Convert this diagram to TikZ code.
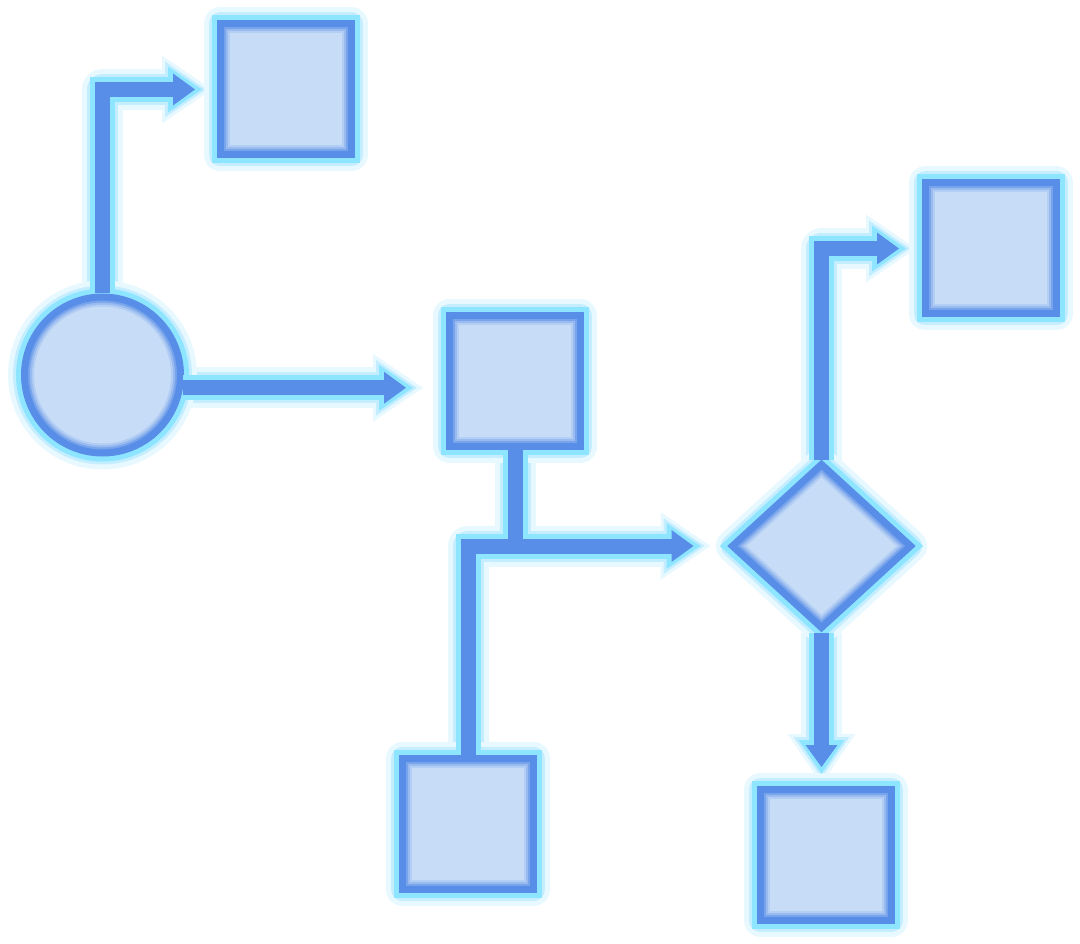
\documentclass[tikz,border=0pt]{standalone}
\usetikzlibrary{arrows.meta,shapes.geometric}
\pgfdeclarelayer{background}
\pgfsetlayers{background,main}

\definecolor{flowdark}{RGB}{89,142,232}
\definecolor{flowfill}{RGB}{199,220,246}
\definecolor{flowcyan}{RGB}{142,229,255}
\definecolor{flowglowA}{RGB}{196,238,255}
\definecolor{flowglowB}{RGB}{232,248,255}

% all connectors of the chart, #1 = pass style, #2 = how far the tip of that pass sticks out
\newcommand{\flowlinks}[2]{%
  \draw[#1, shorten >=21.5-#2] (c.north) |- (s1.west);
  \draw[#1, shorten >=40-#2] (c.-9) -- (c.-9 -| s2.west);
  \draw[#1, -] (s2.south) -- (s2.south |- d.west);
  \draw[#1, shorten >=34-#2] (s4.north) |- (d.west);
  \draw[#1, shorten >=22.5-#2] (d.north) |- (s3.west);
  \draw[#1, shorten >=19-#2] (d.south) -- (d.south |- s5.north);
}

\begin{document}
\begin{tikzpicture}[x=1pt,y=-1pt,
    glowbox/.style={draw=flowdark, fill=flowfill, line width=7pt, inner sep=0pt,
      preaction={draw=flowglowB, line width=33pt, line join=round},
      preaction={draw=flowglowA, line width=23pt, line join=round},
      preaction={draw=flowcyan, line width=17pt}},
    % soft darker band just inside the border
    inband/.style={path picture={
      \foreach \w/\m in {19/18, 15/42, 11/72} \draw[flowdark!\m!flowfill, line width=\w pt] #1;}},
    sq/.style={glowbox, minimum size=131pt,
      inband={(path picture bounding box.south west) rectangle (path picture bounding box.north east)}},
    glowB/.style={draw=flowglowB, line width=41pt, line join=round,
      -{Triangle[length=50pt, width=68pt, line width=0pt]}},
    glowA/.style={draw=flowglowA, line width=31pt, line join=round,
      -{Triangle[length=41pt, width=56pt, line width=0pt]}},
    halo/.style={draw=flowcyan, line width=25pt,
      -{Triangle[length=34pt, width=46pt, line width=0pt]}},
    wire/.style={draw=flowdark, line width=15pt,
      -{Triangle[length=22pt, width=32pt, line width=0pt]}}]
    \useasboundingbox (0,0) rectangle (1080,944);

    % start, boxes and the decision
    \node[glowbox, circle, minimum size=156pt,
      inband={(path picture bounding box.center) circle (78pt)}] (c) at (102.5,375) {};
    \node[sq] (s1) at (285.5,89.5) {};
    \node[sq] (s2) at (515,381) {};
    \node[sq] (s3) at (990.5,248.5) {};
    \node[sq] (s4) at (468,824) {};
    \node[sq] (s5) at (826,855) {};
    \node[glowbox, diamond, minimum width=181pt, minimum height=166pt,
      inband={(path picture bounding box.north) -- (path picture bounding box.east)
        -- (path picture bounding box.south) -- (path picture bounding box.west) -- cycle}]
      (d) at (821.5,546) {};

    % soft glow goes under everything
    \begin{pgfonlayer}{background}
        \flowlinks{glowB}{17}
        \flowlinks{glowA}{11}
    \end{pgfonlayer}

    % cyan rim first, then the blue line on top
    \foreach \sty/\off in {halo/7, wire/0} {\flowlinks{\sty}{\off}}
\end{tikzpicture}
\end{document}
